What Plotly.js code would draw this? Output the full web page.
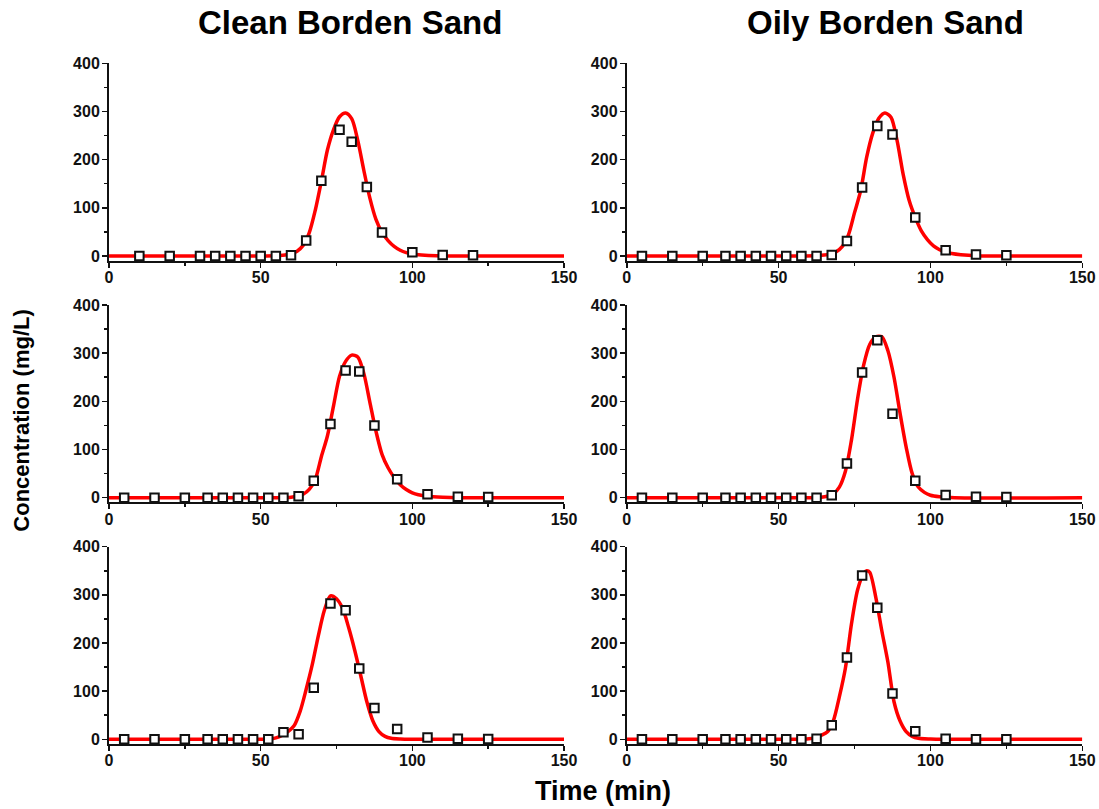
<!DOCTYPE html>
<html>
<head>
<meta charset="utf-8">
<script src="https://cdn.plot.ly/plotly-3.0.1.min.js"></script>
<style>html,body{margin:0;padding:0;background:#fff;}#chart{width:1099px;height:809px;}</style>
</head>
<body>
<div id="chart"></div>
<script>
// ---- Measured data (time in min, concentration in mg/L) ----
const cleanTime1 = [10,20,30,35,40,45,50,55,60,65,70,76,80,85,90,100,110,120];
const cleanConc1 = [0,0,0,0,0,0,0,0,1.5,32,156,262,237,143,49,8,2,1.5];
const cleanTime2 = [5,15,25,32.5,37.5,42.5,47.5,52.5,57.5,62.5,67.5,73,78,82.5,87.5,95,105,115,125];
const cleanConc2 = [0,0,0,0,0,0,0,0,0,3,35,153,264,262,150,38,7,2,1.5];
const cleanTime3 = [5,15,25,32.5,37.5,42.5,47.5,52.5,57.5,62.5,67.5,73,78,82.5,87.5,95,105,115,125];
const cleanConc3 = [0,0,0,0,0,0,0,0,14.5,10.4,107,282,268,147,65,21.5,4,1.4,0.7];
const oilyTime1 = [5,15,25,32.5,37.5,42.5,47.5,52.5,57.5,62.5,67.5,72.5,77.5,82.5,87.5,95,105,115,125];
const oilyConc1 = [0,0,0,0,0,0,0,0,0,0,2,31,142,270,252,80,12,3,1.5];
const oilyTime2 = [5,15,25,32.5,37.5,42.5,47.5,52.5,57.5,62.5,67.5,72.5,77.5,82.5,87.5,95,105,115,125];
const oilyConc2 = [0,0,0,0,0,0,0,0,0,0,5,71,260,327,174,35,5.5,2,1.4];
const oilyTime3 = [5,15,25,32.5,37.5,42.5,47.5,52.5,57.5,62.5,67.5,72.5,77.5,82.5,87.5,95,105,115,125];
const oilyConc3 = [0,0,0,0,0,0,0,0,0,1.4,29,170,340,273,95,16.6,1.4,0,0];

// ---- Fitted curves ----
const cleanFitT1 = [0,50,56,58,60,62,64,66,68,70,72,74,76,78,80,82,84,86,88,90,92,94,96,98,100,103,108,150];
const cleanFitC1 = [0,0,1,2,5,10,22,48,95,155,220,262,289,297,285,240,178,120,76,49,32,20,12,7,4,2,0.5,0];
const cleanFitT2 = [0,55,60,62,64,66,68,70,72,74,76,78,80,82,84,86,88,90,92,94,96,98,100,102,105,110,115,150];
const cleanFitC2 = [0,0,1,3,7,17,38,85,128,190,252,283,296,292,258,198,138,90,62,42,27,17,10,6,3,1,0,0];
const cleanFitT3 = [0,50,53,55,57,59,61,63,65,67,69,71,73,75,77,79,81,83,85,87,89,91,93,96,100,150];
const cleanFitC3 = [0,0,0.5,3,8,16,28,58,104,155,215,268,298,292,272,232,185,132,78,38,16,6,2,0.5,0,0];
const oilyFitT1 = [0,57,63,65,67,69,71,73,75,77,79,81,83,85,87,89,91,93,95,97,99,101,103,105,107,110,115,150];
const oilyFitC1 = [0,0,1,2,4,9,20,44,90,135,205,255,286,297,288,240,170,115,80,52,34,21,13,8,5,2.5,0.5,0];
const oilyFitT2 = [0,60,64,66,68,70,72,74,76,78,80,82,84,86,88,90,92,94,96,98,100,103,108,150];
const oilyFitC2 = [0,0,1,3,8,22,55,120,205,275,318,334,334,305,250,175,105,50,22,11,5,2,0,0];
const oilyFitT3 = [0,55,60,62,64,66,68,70,72,74,76,78,79,80,82,84,86,88,90,92,94,96,100,105,150];
const oilyFitC3 = [0,0,1,3,8,15,38,88,148,240,310,345,350,347,295,225,160,78,38,16,6,2,0.5,0,0];

const xTickVals = [0,50,100,150];
const yTickVals = [0,100,200,300,400];
const columnTitles = ['Clean Borden Sand','Oily Borden Sand'];
const xTitle = 'Time (min)';
const yTitle = 'Concentration (mg/L)';

// ---- Build ----
const panels = [
  {t: cleanTime1, c: cleanConc1, ft: cleanFitT1, fc: cleanFitC1},
  {t: oilyTime1,  c: oilyConc1,  ft: oilyFitT1,  fc: oilyFitC1},
  {t: cleanTime2, c: cleanConc2, ft: cleanFitT2, fc: cleanFitC2},
  {t: oilyTime2,  c: oilyConc2,  ft: oilyFitT2,  fc: oilyFitC2},
  {t: cleanTime3, c: cleanConc3, ft: cleanFitT3, fc: cleanFitC3},
  {t: oilyTime3,  c: oilyConc3,  ft: oilyFitT3,  fc: oilyFitC3}
];

const xDomains = [[0.0992, 0.5132], [0.5703, 0.9848]];
const yDomains = [[0.6776, 0.9218], [0.3789, 0.6230], [0.0802, 0.3242]];
const FONT = 'Liberation Sans, Arial, Helvetica, sans-serif';
const tickFont = {family: FONT, size: 16, color: '#111', weight: 'bold'};

const traces = [];
const layout = {
  width: 1099, height: 809, autosize: false,
  margin: {l: 0, r: 0, t: 0, b: 0, pad: 0},
  paper_bgcolor: '#fff', plot_bgcolor: '#fff',
  showlegend: false,
  annotations: []
};

panels.forEach((p, i) => {
  const n = i + 1;
  const xa = n === 1 ? 'x' : 'x' + n;
  const ya = n === 1 ? 'y' : 'y' + n;
  const row = Math.floor(i / 2), col = i % 2;
  traces.push({
    x: p.ft, y: p.fc, xaxis: xa, yaxis: ya, type: 'scatter', mode: 'lines',
    line: {color: '#ff0000', width: 3.5, shape: 'spline', smoothing: 0.8},
    hoverinfo: 'skip'
  });
  traces.push({
    x: p.t, y: p.c, xaxis: xa, yaxis: ya, type: 'scatter', mode: 'markers',
    marker: {symbol: 'square', size: 8.5, color: '#ffffff', line: {color: '#111', width: 2}},
    cliponaxis: false
  });
  const xKey = n === 1 ? 'xaxis' : 'xaxis' + n;
  const yKey = n === 1 ? 'yaxis' : 'yaxis' + n;
  layout[xKey] = {
    domain: xDomains[col], anchor: ya, range: [0, 150],
    showgrid: false, zeroline: false, showline: true, linecolor: '#111', linewidth: 2,
    ticks: 'outside', ticklen: 5, tickwidth: 1.5, tickcolor: '#111',
    tickvals: xTickVals, ticktext: xTickVals.map(String), tickfont: tickFont,
    ticklabelstandoff: -4,
    minor: {tickvals: [25, 75, 125], ticks: 'outside', ticklen: 3, tickwidth: 1.5, tickcolor: '#111', showgrid: false},
    fixedrange: true
  };
  layout[yKey] = {
    domain: yDomains[row], anchor: xa, range: [-10, 400],
    showgrid: false, zeroline: false, showline: true, linecolor: '#111', linewidth: 2,
    ticks: 'outside', ticklen: 5, tickwidth: 1.5, tickcolor: '#111',
    tickvals: yTickVals, ticktext: yTickVals.map(String), tickfont: tickFont,
    ticklabelstandoff: -1,
    minor: {tickvals: [50, 150, 250, 350], ticks: 'outside', ticklen: 3, tickwidth: 1.5, tickcolor: '#111', showgrid: false},
    fixedrange: true
  };
});

layout.annotations.push(
  {text: columnTitles[0], xref: 'paper', yref: 'paper', x: 0.3185, y: 0.9728, xanchor: 'center', yanchor: 'middle', showarrow: false,
   font: {family: FONT, size: 33, color: '#000', weight: 'bold'}},
  {text: columnTitles[1], xref: 'paper', yref: 'paper', x: 0.806, y: 0.9728, xanchor: 'center', yanchor: 'middle', showarrow: false,
   font: {family: FONT, size: 33, color: '#000', weight: 'bold'}},
  {text: xTitle, xref: 'paper', yref: 'paper', x: 0.5487, y: 0.0222, xanchor: 'center', yanchor: 'middle', showarrow: false,
   font: {family: FONT, size: 27, color: '#000', weight: 'bold'}},
  {text: yTitle, xref: 'paper', yref: 'paper', x: 0.02, y: 0.48, xanchor: 'center', yanchor: 'middle', showarrow: false, textangle: -90,
   font: {family: FONT, size: 22, color: '#000', weight: 'bold'}}
);

Plotly.newPlot('chart', traces, layout, {staticPlot: true, displayModeBar: false});
</script>
</body>
</html>
